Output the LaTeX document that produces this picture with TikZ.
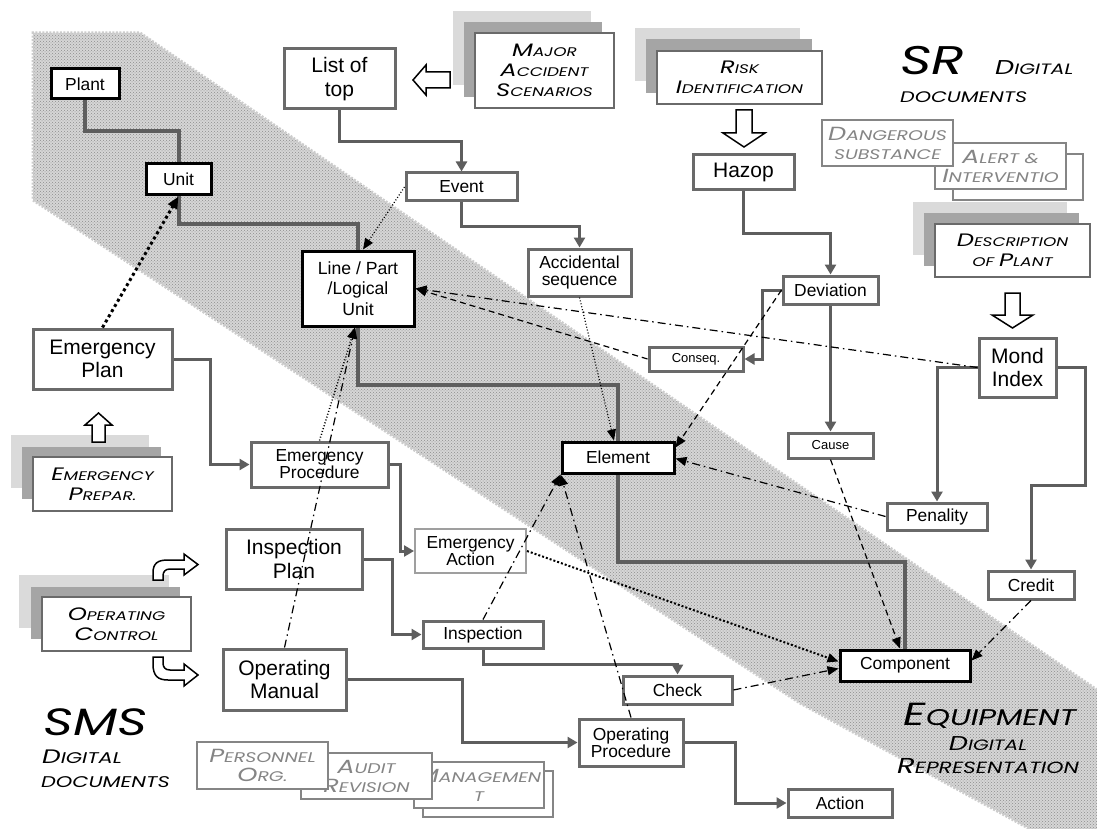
\documentclass[tikz,border=0pt]{standalone}
\usepackage{fontspec}
\setmainfont{Liberation Sans}
\newfontfamily\docfont[FakeStretch=1.35]{Poppins}
\usetikzlibrary{arrows.meta,patterns}
\definecolor{bx}{HTML}{6A6A6A}
\definecolor{cn}{HTML}{5E5E5E}
\definecolor{shA}{HTML}{DADADA}
\definecolor{shB}{HTML}{A5A5A5}
\definecolor{dtx}{HTML}{858585}
\newcommand\Nsz{\fontsize{17.4}{17.5}\selectfont}
\newcommand\Bsz{\fontsize{21}{23.5}\selectfont}
\newcommand\Ssz{\fontsize{13}{14}\selectfont}
\newcommand\Dsz{\docfont\itshape\fontsize{12.5}{20}\selectfont}
\newcommand\Gsz{\docfont\itshape\fontsize{14}{19}\selectfont}
\newcommand\Bc[1]{{\fontsize{18}{18}\selectfont #1}}
\newcommand\Bd[1]{{\fontsize{19}{19}\selectfont #1}}
\tikzset{
 gbox/.style={draw=bx, line width=3pt, fill=white, inner sep=0pt, align=center, font=\Nsz},
 kbox/.style={gbox, draw=black},
 doc/.style={draw=bx, line width=1.3pt, fill=white, inner sep=0pt, align=center, font=\Dsz},
 gdoc/.style={draw=dtx, line width=1.3pt, fill=white, inner sep=0pt, align=center, font=\Gsz, text=dtx},
 tree/.style={draw=cn, line width=3pt, -{Triangle[length=10pt,width=11pt]}},
 hier/.style={draw=cn, line width=4pt},
 ptr/.style={draw=black, line width=1.2pt, -{Triangle[length=11pt,width=9pt]}},
 dsh/.style={ptr, dash pattern=on 6pt off 4pt},
 dashdot/.style={ptr, dash pattern=on 8pt off 4pt on 1.5pt off 4pt},
 dots/.style={ptr, dash pattern=on 1pt off 2pt},
 blk/.style={draw=black, line width=1.5pt, fill=white, line join=miter},
 lbl/.style={inner sep=0pt, anchor=base west},
}
\begin{document}
\begin{tikzpicture}[x=1pt,y=-1pt]
\useasboundingbox (0,0) rectangle (1097,829);
\fill[white] (0,0) rectangle (1097,829);
% hatched band
\fill[gray!32] (33,33) -- (140,33) -- (1097,690) -- (1097,829) -- (1030,829) -- (800,703) -- (33,200) -- cycle;
\fill[pattern=crosshatch dots, pattern color=gray!90] (33,33) -- (140,33) -- (1097,690) -- (1097,829) -- (1030,829) -- (800,703) -- (33,200) -- cycle;
\draw[gray!40, line width=3pt, dash pattern=on 2pt off 1.5pt] (1097,690) -- (140,33) -- (33,33) -- (33,200) -- (800,703) -- (1030,829);

% document stacks
\fill[shA] (453,11) rectangle (591,85); \fill[shB] (464,22) rectangle (602,97);
\node[doc, minimum width=139pt, minimum height=75pt] (major) at (544.5,70.5) {\Bc{M}AJOR\\\Bc{A}CCIDENT\\\Bc{S}CENARIOS};
\fill[shA] (635,28) rectangle (800,81); \fill[shB] (646,39) rectangle (812,93);
\node[doc, minimum width=165pt, minimum height=53pt] (risk) at (739.5,77.5) {\Bc{R}ISK\\\Bc{I}DENTIFICATION};
\fill[shA] (913,202) rectangle (1067,255); \fill[shB] (924,213) rectangle (1079,266);
\node[doc, minimum width=155pt, minimum height=53pt] (descr) at (1012.5,250.5) {\Bc{D}ESCRIPTION\\OF \Bc{P}LANT};
\fill[shA] (11,435) rectangle (149,488); \fill[shB] (22,447) rectangle (161,499);
\node[doc, minimum width=139pt, minimum height=54pt] (emprep) at (102.5,484) {\Bc{E}MERGENCY\\\Bc{P}REPAR.};
\fill[shA] (19,575) rectangle (169,628); \fill[shB] (31,587) rectangle (180,639);
\node[doc, minimum width=149pt, minimum height=54pt] (opctl) at (116.5,624) {\Bc{O}PERATING\\\Bc{C}ONTROL};

% grey-text documents
\draw[dtx, line width=1.3pt, fill=white] (953,154) rectangle (1083,200);
\node[gdoc, minimum width=131pt, minimum height=46pt] (alert) at (1000.5,166) {\Bd{A}LERT \&\\\Bd{I}NTERVENTIO};
\node[gdoc, minimum width=131pt, minimum height=46pt] (danger) at (887.5,143) {\Bd{D}ANGEROUS\\SUBSTANCE};
\draw[dtx, line width=1.3pt, fill=white] (423,771) rectangle (553,817);
\node[gdoc, minimum width=130pt, minimum height=46pt] (manag) at (479,785) {\Bd{M}ANAGEMEN\\T};
\node[gdoc, minimum width=131pt, minimum height=46pt] (audit) at (366.5,776) {\Bd{A}UDIT\\\Bd{R}EVISION};
\node[gdoc, minimum width=131pt, minimum height=47pt] (person) at (262.5,765.5) {\Bd{P}ERSONNEL\\\Bd{O}RG.};

% big labels
\node[lbl, font=\docfont\itshape\fontsize{40}{40}\selectfont] (sr) at (900,75) {SR};
\node[lbl, font=\docfont\itshape\fontsize{15}{15}\selectfont] (srdig) at (995,75) {{\fontsize{20}{20}\selectfont D}IGITAL};
\node[lbl, font=\docfont\itshape\fontsize{15.3}{15.3}\selectfont] (srdoc) at (900,103) {DOCUMENTS};
\node[lbl, font=\docfont\itshape\fontsize{38}{38}\selectfont] (sms) at (43,735) {SMS};
\node[lbl, font=\docfont\itshape\fontsize{15.5}{15.5}\selectfont] (smsdig) at (42,763) {{\fontsize{19.5}{19.5}\selectfont D}IGITAL};
\node[lbl, font=\docfont\itshape\fontsize{15.5}{15.5}\selectfont] (smsdoc) at (41,787) {DOCUMENTS};
\node[inner sep=0pt, anchor=base, font=\docfont\itshape\fontsize{22.7}{22.7}\selectfont] (equip) at (990,725) {{\fontsize{32}{32}\selectfont E}QUIPMENT};
\node[inner sep=0pt, anchor=base, font=\docfont\itshape\fontsize{15}{15}\selectfont] (eqdig) at (988,750) {{\fontsize{20}{20}\selectfont D}IGITAL};
\node[inner sep=0pt, anchor=base, font=\docfont\itshape\fontsize{16.2}{16.2}\selectfont] (eqrep) at (988,773) {{\fontsize{21.6}{21.6}\selectfont R}EPRESENTATION};

% block arrows
\draw[blk] (413,80) -- (426,65) -- (426,72) -- (450,72) -- (450,88) -- (426,88) -- (426,95) -- cycle;
\draw[blk] (736,110) -- (752,110) -- (752,133) -- (765,133) -- (744,147) -- (723,133) -- (736,133) -- cycle;
\draw[blk] (1005,293) -- (1020,293) -- (1020,315) -- (1033,315) -- (1012.5,328) -- (992,315) -- (1005,315) -- cycle;
\draw[blk] (98.5,413) -- (112,425) -- (105,425) -- (105,442) -- (92,442) -- (92,425) -- (85,425) -- cycle;
\draw[blk] (153,580) -- (153,573) .. controls (153,563) and (158,560) .. (168,560) -- (184,560) -- (184,554) -- (198,564.5) -- (184,575) -- (184,569) -- (170,569) .. controls (165,569) and (163,572) .. (163,576) -- (163,580) -- cycle;
\draw[blk] (153,657) -- (153,664) .. controls (153,676) and (158,680) .. (168,680) -- (184,680) -- (184,686) -- (198,675) -- (184,664) -- (184,670) -- (170,670) .. controls (165,670) and (163,667) .. (163,663) -- (163,657) -- cycle;

% main nodes
\node[kbox, minimum width=68pt, minimum height=30pt] (plant) at (85,84) {Plant};
\node[kbox, minimum width=65pt, minimum height=31pt] (unit) at (178.5,179.5) {Unit};
\node[kbox, minimum width=112pt, minimum height=75pt, font=\fontsize{17.6}{20.5}\selectfont] (line) at (358,288.5) {Line / Part\\/Logical\\Unit};
\node[gbox, minimum width=111pt, minimum height=60pt, font=\Bsz] (listtop) at (339.5,79) {List of\\top};
\node[gbox, minimum width=139pt, minimum height=60pt, font=\Bsz] (emplan) at (102.5,359) {Emergency\\Plan};
\node[gbox, minimum width=137pt, minimum height=45pt, font=\fontsize{17.4}{17}\selectfont] (emproc) at (319.5,464.5) {Emergency\\Procedure};
\node[gbox, draw=gray!75, line width=2pt, minimum width=111pt, minimum height=44pt, font=\fontsize{17.4}{17}\selectfont] (emact) at (470.5,551) {Emergency\\Action};
\node[gbox, minimum width=136pt, minimum height=60pt, font=\Bsz] (insplan) at (294,559) {Inspection\\Plan};
\node[gbox, minimum width=120pt, minimum height=27pt] (insp) at (483,634.5) {Inspection};
\node[gbox, minimum width=123pt, minimum height=61pt, font=\Bsz] (opman) at (284.5,679.5) {Operating\\Manual};
\node[gbox, minimum width=104pt, minimum height=47pt, font=\fontsize{17.4}{17}\selectfont] (opproc) at (631,742.5) {Operating\\Procedure};
\node[gbox, minimum width=109pt, minimum height=28pt] (check) at (677.5,690) {Check};
\node[gbox, minimum width=104pt, minimum height=28pt] (action) at (840,803) {Action};
\node[kbox, minimum width=130pt, minimum height=31pt] (component) at (905,665.5) {Component};
\node[gbox, minimum width=86pt, minimum height=28pt] (credit) at (1031,585) {Credit};
\node[kbox, minimum width=112pt, minimum height=31pt] (element) at (618,457.5) {Element};
\node[gbox, minimum width=85pt, minimum height=25pt, font=\Ssz] (cause) at (830.5,445.5) {Cause};
\node[gbox, minimum width=95pt, minimum height=28pt] (deviation) at (830.5,290) {Deviation};
\node[gbox, minimum width=94pt, minimum height=24pt, font=\Ssz] (conseq) at (696,359) {Conseq.};
\node[gbox, minimum width=100pt, minimum height=27pt] (penality) at (937,516.5) {Penality};
\node[gbox, minimum width=77pt, minimum height=59pt, font=\Bsz] (mond) at (1017.5,367.5) {Mond\\Index};
\node[gbox, minimum width=101pt, minimum height=35pt, font=\Bsz] (hazop) at (743.5,172.5) {Hazop};
\node[gbox, minimum width=111pt, minimum height=28pt] (event) at (461.5,187) {Event};
\node[gbox, minimum width=103pt, minimum height=47pt, font=\fontsize{17.4}{17}\selectfont] (accseq) at (579.5,272.5) {Accidental\\sequence};

% grey structural connectors
\draw[hier] (plant.south) -- ++(0,31) -| (unit.north);
\draw[hier] (unit.south) -- ++(0,27) -| (line.north);
\draw[hier] (line.south) -- ++(0,57) -| (element.north);
\draw[hier] (element.south) -- ++(0,87) -| (component.north);
\draw[tree] (listtop.south) -- ++(0,31) -| (event.north);
\draw[tree] (event.south) -- ++(0,24) -| (accseq.north);
\draw[tree] (hazop.south) -- ++(0,42) -| (deviation.north);
\draw[tree] (deviation.south) -- (cause.north);
\draw[tree] (deviation.west) -- ++(-19,0) |- (conseq.east);
\draw[tree] (mond.west) -| (penality.north);
\draw[tree] (mond.east) -- ++(28,0) -- ++(0,117.5) -| (credit.north);
\draw[tree] (emplan.east) -- ++(37,0) |- (emproc.west);
\draw[tree] (emproc.east) -- ++(11,0) |- (emact.west);
\draw[tree] (insplan.east) -- ++(29,0) |- (insp.west);
\draw[tree] (opman.east) -- ++(115,0) |- (opproc.west);
\draw[tree] (opproc.east) -- ++(51,0) |- (action.west);
\draw[tree] (insp.south) -- ++(0,15) -| (check.north);

% black relation connectors
\draw[dots] (event.west) -- ([xshift=5pt]line.north);
\draw[ptr, line width=3pt, dash pattern=on 3pt off 3pt, -{Triangle[length=12pt,width=10pt]}] (emplan.north) -- (unit.south);
\draw[dots] (accseq.south) -- ([xshift=-4pt]element.north);
\draw[dsh] (conseq.west) -- (line.east);
\draw[dashdot] (mond.west) -- (line.east);
\draw[dsh] (deviation.west) -- ([yshift=10pt]element.east);
\draw[dashdot] (penality.west) -- ([yshift=-1pt]element.east);
\draw[dsh] (cause.south) -- ([xshift=-5pt]component.north);
\draw[dashdot] (credit.south) -- ([yshift=5pt]component.east);
\draw[dashdot] (check.east) -- ([yshift=-3pt]component.west);
\draw[ptr, line width=2pt, dash pattern=on 2pt off 2pt] (emact.east) -- ([yshift=4pt]component.west);
\draw[dashdot] (insp.north) -- (element.south west);
\draw[dashdot] (opproc.north) -- (element.south west);
\draw[dashdot] (opman.north) -- ([xshift=-3pt]line.south);
\draw[dots, line width=1.5pt] (emproc.north) -- ([xshift=-3pt]line.south);
\end{tikzpicture}
\end{document}
